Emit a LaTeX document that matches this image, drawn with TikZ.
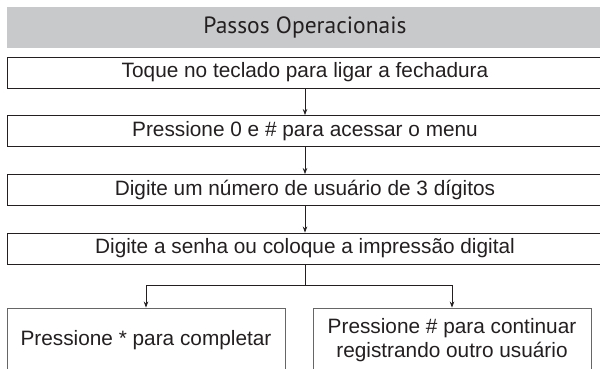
\documentclass[tikz,border=0pt]{standalone}
\usepackage{fontspec}
\setmainfont{Liberation Sans}
\newfontfamily\headfont{PT Sans}
\usetikzlibrary{arrows.meta}
\definecolor{headgray}{HTML}{C8C9CB}
\definecolor{ink}{HTML}{231F20}
\begin{document}
\begin{tikzpicture}[x=1pt,y=-1pt,
    stepbox/.style={draw=ink,line width=0.9pt,minimum width=596pt,minimum height=31pt,
      inner sep=0pt,text=ink,font=\fontsize{20.8}{24}\selectfont},
    endbox/.style={draw=black!60,line width=0.9pt,minimum width=278pt,minimum height=64pt,
      inner sep=0pt,align=center,text=ink,font=\fontsize{20.8}{24}\selectfont},
    link/.style={draw=ink,line width=0.7pt,-{Stealth[length=6pt,width=4.5pt]}}]
  \useasboundingbox (0,0) rectangle (600,369);
  \clip (0,0) rectangle (600,369);
  % title band
  \node[fill=headgray,minimum width=596pt,minimum height=41pt,inner sep=0pt,
    text=ink,font=\headfont\fontsize{23.5}{28}\selectfont] (head) at (305,27.5) {Passos Operacionais};
  % steps
  \node[stepbox] (touch) at (305,72.5) {Toque no teclado para ligar a fechadura};
  \node[stepbox] (menu) at (305,131) {Pressione 0 e \# para acessar o menu};
  \node[stepbox] (user) at (305,190) {Digite um número de usuário de 3 dígitos};
  \node[stepbox] (code) at (305,248.5) {Digite a senha ou coloque a impressão digital};
  \node[endbox] (done) at (146,340) {Pressione * para completar};
  \node[endbox] (more) at (452,340) {Pressione \# para continuar\\registrando outro usuário};
  % connectors
  \draw[link] (touch) -- (menu);
  \draw[link] (menu) -- (user);
  \draw[link] (user) -- (code);
  \draw[ink,line width=0.7pt] (code.south) -- ++(0,21) coordinate (fork);
  \draw[link] (fork) -| (done.north);
  \draw[link] (fork) -| (more.north);
\end{tikzpicture}
\end{document}
